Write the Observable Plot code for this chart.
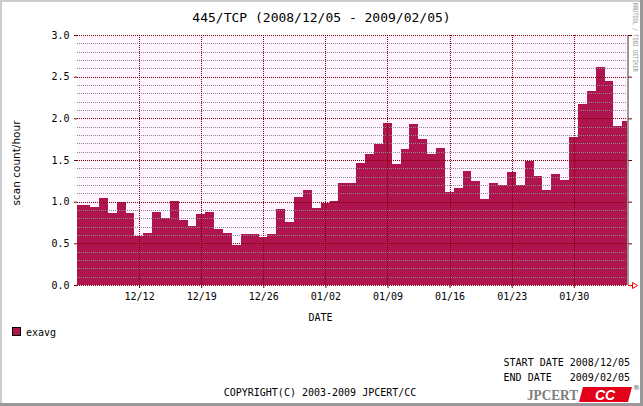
<!DOCTYPE html>
<html><head><meta charset="utf-8">
<script src="https://cdn.jsdelivr.net/npm/d3@7"></script>
<script src="https://cdn.jsdelivr.net/npm/@observablehq/plot@0.6"></script>
<style>
html,body{margin:0;padding:0;background:#fff;}
#chart svg{display:block;}
</style>
</head><body><div id="chart"></div>
<script>
// ---------- data ----------
const title = "445/TCP (2008/12/05 - 2009/02/05)";
const yLabel = "scan count/hour";
const xLabel = "DATE";
const legendLabel = "exavg";
const startLine = "START DATE 2008/12/05";
const endLine = "END DATE   2009/02/05";
const copyright = "COPYRIGHT(C) 2003-2009 JPCERT/CC";
const credit = "RRDTOOL / TOBI OETIKER";
const logoText = "JPCERT";
const logoBox = "CC";

const firstDay = "2008-12-04"; // first (partially visible) daily bucket
const dailyValues = [
  0.96, 0.96, 0.94, 1.04, 0.86, 1.00, 0.86, 0.59, 0.62, 0.88, 0.80, 1.01, 0.78, 0.71,
  0.85, 0.88, 0.67, 0.62, 0.48, 0.61, 0.61, 0.58, 0.61, 0.91, 0.76, 1.06, 1.14, 0.92,
  0.98, 1.01, 1.22, 1.23, 1.46, 1.57, 1.69, 1.94, 1.45, 1.63, 1.93, 1.75, 1.57, 1.64,
  1.12, 1.16, 1.37, 1.25, 1.03, 1.22, 1.20, 1.36, 1.20, 1.49, 1.31, 1.14, 1.33, 1.26,
  1.78, 2.17, 2.33, 2.62, 2.45, 1.91, 1.97
];
const xDomain = ["2008-12-05", "2009-02-05"];
const xTickDates = ["2008-12-12", "2008-12-19", "2008-12-26", "2009-01-02", "2009-01-09", "2009-01-16", "2009-01-23", "2009-01-30"];
const xTickLabels = ["12/12", "12/19", "12/26", "01/02", "01/09", "01/16", "01/23", "01/30"];
const yMajorTicks = [0, 0.5, 1.0, 1.5, 2.0, 2.5, 3.0];
const yMinorTicks = [0.1, 0.2, 0.3, 0.4, 0.6, 0.7, 0.8, 0.9, 1.1, 1.2, 1.3, 1.4, 1.6, 1.7, 1.8, 1.9, 2.1, 2.2, 2.3, 2.4, 2.6, 2.7, 2.8, 2.9];

// ---------- build ----------
const DAY = 86400000;
const bucketOffset = 0.47 * DAY; // buckets are not aligned to midnight
const rows = dailyValues.map((v, i) => {
  const s = Date.parse(firstDay) + i * DAY + bucketOffset;
  return {start: new Date(s), end: new Date(s + DAY), value: v};
});
const tickDates = xTickDates.map(d => new Date(d));
const tickLabelOf = new Map(tickDates.map((d, i) => [+d, xTickLabels[i]]));
const domainEnd = new Date(xDomain[1]);

const W = 643, H = 406;
const mono = "'DejaVu Sans Mono', 'Liberation Mono', monospace";
const darkRed = "#7a0000";
const crisp = {shapeRendering: "crispEdges"};

const plot = Plot.plot({
  width: W, height: H,
  marginLeft: 77, marginRight: 16, marginTop: 35, marginBottom: 121,
  style: {background: "#ffffff", fontFamily: mono, fontSize: "10px", color: "#000", overflow: "visible"},
  x: {type: "utc", domain: xDomain.map(d => new Date(d))},
  y: {domain: [0, 3]},
  marks: [
    Plot.frame({fill: "#fff4ff", stroke: null}),
    Plot.rectY(rows, {x1: "start", x2: "end", y1: 0, y2: "value", fill: "#b0144f", clip: true, ...crisp}),
    Plot.ruleY(yMinorTicks, {stroke: "#8a8a8a", strokeDasharray: "1,1", strokeWidth: 1, ...crisp}),
    Plot.ruleY(yMajorTicks, {stroke: darkRed, strokeDasharray: "1,1", strokeWidth: 1, ...crisp}),
    Plot.ruleX(tickDates, {stroke: darkRed, strokeDasharray: "1,1", strokeWidth: 1, ...crisp}),
    Plot.ruleX([domainEnd], {stroke: "#999999", strokeWidth: 2, ...crisp}),
    Plot.axisY({ticks: yMajorTicks, tickFormat: d3.format(".1f"), tickSize: 3, tickPadding: 5, stroke: darkRed, fill: "#000", label: null}),
    Plot.axisY({anchor: "right", ticks: yMajorTicks, tickFormat: () => "", tickSize: 4, tickPadding: 0, stroke: darkRed, label: null}),
    Plot.axisX({ticks: tickDates, tickFormat: d => tickLabelOf.get(+d), tickSize: 3, tickPadding: 4, stroke: darkRed, fill: "#000", label: null})
  ]
});

document.getElementById("chart").appendChild(plot);
const svg = d3.select(plot);

// outer 3D frame
svg.append("rect").attr("x", 0).attr("y", 0).attr("width", W).attr("height", 2).attr("fill", "#cccccc");
svg.append("rect").attr("x", 0).attr("y", 0).attr("width", 2).attr("height", H).attr("fill", "#cccccc");
svg.append("rect").attr("x", 0).attr("y", H - 3).attr("width", W).attr("height", 3).attr("fill", "#999999");
svg.append("rect").attr("x", W - 3).attr("y", 0).attr("width", 3).attr("height", H).attr("fill", "#999999");

// x-axis arrow
svg.append("path").attr("d", "M628,285.5H632M632.5,282.5L637.5,285.5L632.5,288.5Z")
  .attr("fill", "none").attr("stroke", "#ff0000").attr("stroke-width", 1);

const txt = (x, y, s, o = {}) => {
  const t = svg.append("text").attr("x", x).attr("y", y).text(s)
    .attr("font-family", o.family || mono).attr("font-size", o.size || 10)
    .attr("fill", o.fill || "#000").attr("text-anchor", o.anchor || "start")
    .style("white-space", "pre");
  if (o.weight) t.attr("font-weight", o.weight);
  if (o.style) t.attr("font-style", o.style);
  if (o.transform) t.attr("transform", o.transform);
  if (o.len) t.attr("textLength", o.len).attr("lengthAdjust", "spacingAndGlyphs");
  return t;
};

txt(321.5, 22, title, {size: 13, anchor: "middle"});
txt(0, 0, yLabel, {family: "'DejaVu Sans', sans-serif", size: 10.5, anchor: "middle", transform: "translate(20,163) rotate(-90)"});
txt(320.5, 321, xLabel, {anchor: "middle"});
txt(0, 0, credit, {size: 7, fill: "#999999", len: 69, transform: "translate(633,3) rotate(90)"});

// legend
svg.append("rect").attr("x", 12.5).attr("y", 327.5).attr("width", 8).attr("height", 8)
  .attr("fill", "#b0144f").attr("stroke", "#000").attr("stroke-width", 1);
txt(26, 336, legendLabel);

// footer
txt(630, 366, startLine, {anchor: "end"});
txt(630, 381, endLine, {anchor: "end"});
txt(320, 396, copyright, {anchor: "middle"});

// logo
txt(527, 400, logoText, {family: "'Liberation Serif', serif", size: 15, weight: "bold", fill: "#7d7d7d", len: 51});
svg.append("polygon").attr("points", "583,387 632,387 628,402 579,402").attr("fill", "#e3001b");
txt(605, 400, logoBox, {family: "'Liberation Sans', sans-serif", size: 14, weight: "bold", style: "italic", fill: "#ffffff", anchor: "middle"});
txt(633, 390, "®", {family: "'DejaVu Sans', sans-serif", size: 7, fill: "#555555"});
</script>
</body></html>
